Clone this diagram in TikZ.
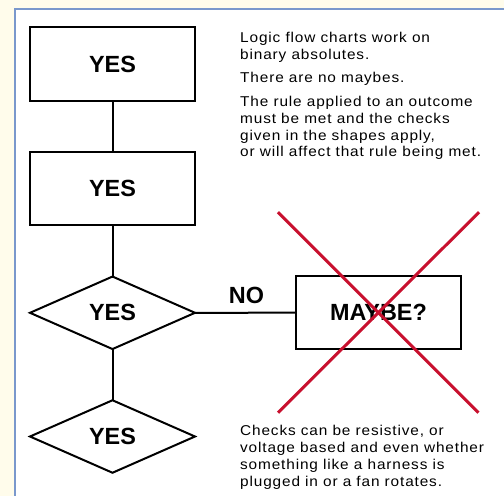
\documentclass[tikz,border=0pt]{standalone}
\usepackage{fontspec}
\setmainfont{Liberation Sans}
\newfontfamily\bodyfont[LetterSpace=6,FakeStretch=1.08]{Liberation Sans}
\usetikzlibrary{shapes.geometric,calc}
\definecolor{cream}{HTML}{FFFCEB}
\definecolor{panelblue}{HTML}{7A98CC}
\definecolor{crossred}{HTML}{C8102E}
\begin{document}
\begin{tikzpicture}[x=1bp,y=-1bp,
  flowbox/.style={draw=black,line width=2bp,fill=white,minimum width=165bp,minimum height=73.5bp,inner sep=0pt,outer sep=0pt,font=\bfseries\fontsize{23.5}{26}\selectfont},
  flowdiamond/.style={flowbox,diamond,aspect=2.26,minimum height=72.5bp},
  link/.style={line width=2bp},
  bodytext/.style={anchor=base west,align=left,inner sep=0pt,font=\bodyfont\fontsize{14.3}{17}\selectfont},
  labeltext/.style={anchor=base,inner sep=0pt,font=\bfseries\fontsize{23.5}{26}\selectfont},
  cross/.style={draw=crossred,line width=3bp}]
\useasboundingbox (0,0) rectangle (504,496);
\fill[cream] (0,0) rectangle (504,496);
\fill[white] (15,9) rectangle (504,496);
\draw[panelblue,line width=1.5bp] (15,496) -- (15,9) -- (504,9);

\node[flowbox] (b1) at (112.5,64) {YES};
\node[flowbox] (b2) at (112.5,188.5) {YES};
\node[flowdiamond] (d1) at (112.5,312.8) {YES};
\node[flowdiamond] (d2) at (112.5,436.5) {YES};
\node[flowbox] (maybe) at (378.5,312.7) {MAYBE?};

\draw[link] (b1.south) -- (b2.north);
\draw[link] (b2.south) -- (d1.north);
\draw[link] (d1.south) -- (d2.north);
\draw[link] (d1.east) -- (maybe.west);
\node[labeltext] (no) at (246.5,303) {NO};

\node[bodytext] (t1) at (240,157) {Logic flow charts work on\\binary absolutes.\\[6.5bp]There are no maybes.\\[6.5bp]The rule applied to an outcome\\must be met and the checks\\given in the shapes apply,\\or will affect that rule being met.};
\node[bodytext] (t2) at (240,486) {Checks can be resistive, or\\voltage based and even whether\\something like a harness is\\plugged in or a fan rotates.};

\coordinate (xa) at ($(maybe.center)+(-100.5,-100.5)$);
\coordinate (xb) at ($(maybe.center)+(100,100)$);
\coordinate (xc) at ($(maybe.center)+(100.5,-100.5)$);
\coordinate (xd) at ($(maybe.center)+(-100.5,100)$);
\draw[cross] (xa) -- (xb);
\draw[cross] (xc) -- (xd);
\end{tikzpicture}
\end{document}
